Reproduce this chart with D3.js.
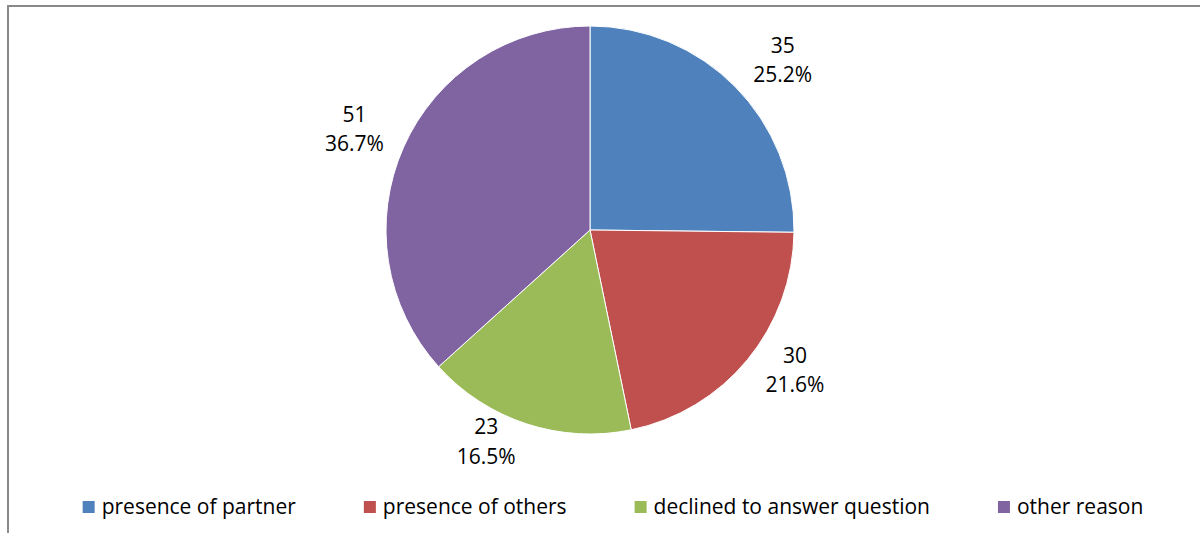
<!DOCTYPE html>
<html>
<head>
<meta charset="utf-8">
<script src="https://cdn.jsdelivr.net/npm/d3@7"></script>
<style>
  html, body { margin: 0; padding: 0; background: #fff; }
  svg { display: block; }
  text { font-family: "Open Sans", sans-serif; fill: #000; }
</style>
</head>
<body>
<svg id="chart" width="1200" height="533"></svg>
<script>
// Reasons, counts and slice colours
const categories = ["presence of partner", "presence of others", "declined to answer question", "other reason"];
const counts = [35, 30, 23, 51];
const colors = ["#4F81BD", "#C0504D", "#9BBB59", "#8064A2"];

// Label placement: distance from centre plus a small best-fit shift per slice
const labelRadius = 250;
const labelShift = [[15, 7], [12, -18], [-26, -25], [-7, 2]];

const width = 1200, height = 533;
const cx = 590, cy = 230, radius = 204;
const fontSize = 21;

const svg = d3.select("#chart");

// outer frame of the chart area
svg.append("rect")
  .attr("x", 8).attr("y", 6)
  .attr("width", width + 20).attr("height", height + 20)
  .attr("fill", "none")
  .attr("stroke", "#898989")
  .attr("stroke-width", 2);

const total = d3.sum(counts);
const data = categories.map((c, i) => ({ name: c, value: counts[i], color: colors[i], idx: i }));

const pie = d3.pie().value(d => d.value).sort(null).startAngle(0).endAngle(2 * Math.PI);
const arcs = pie(data);

const arc = d3.arc().innerRadius(0).outerRadius(radius);
const labelArc = d3.arc().innerRadius(labelRadius).outerRadius(labelRadius);

const g = svg.append("g").attr("transform", `translate(${cx},${cy})`);

g.selectAll("path.slice")
  .data(arcs)
  .join("path")
  .attr("class", "slice")
  .attr("d", arc)
  .attr("fill", d => d.data.color)
  .attr("stroke", "#fff")
  .attr("stroke-width", 1);

const pct = v => (v / total * 100).toFixed(1) + "%";

const labels = g.selectAll("text.lbl")
  .data(arcs)
  .join("text")
  .attr("class", "lbl")
  .attr("text-anchor", "middle")
  .attr("font-size", fontSize)
  .attr("transform", d => {
    const [x, y] = labelArc.centroid(d);
    const s = labelShift[d.data.idx];
    return `translate(${x + s[0]},${y + s[1]})`;
  });

labels.append("tspan").attr("x", 0).attr("dy", "-0.4em").text(d => d.data.value);
labels.append("tspan").attr("x", 0).attr("dy", "1.4em").text(d => pct(d.data.value));

// legend along the bottom, centred
const sw = 12, swGap = 7, itemGap = 68, legendY = 507, legendCenter = 613;
const legend = svg.append("g");
const items = legend.selectAll("g.item")
  .data(data)
  .join("g")
  .attr("class", "item");

items.append("rect")
  .attr("width", sw).attr("height", sw)
  .attr("y", legendY - sw / 2)
  .attr("fill", d => d.color);

items.append("text")
  .attr("x", sw + swGap)
  .attr("y", legendY)
  .attr("dy", "0.35em")
  .attr("font-size", fontSize)
  .text(d => d.name);

const widths = [];
items.each(function () {
  widths.push(sw + swGap + d3.select(this).select("text").node().getComputedTextLength());
});
const legendWidth = d3.sum(widths) + itemGap * (widths.length - 1);
let x0 = legendCenter - legendWidth / 2;
items.attr("transform", (d, i) => {
  const x = x0;
  x0 += widths[i] + itemGap;
  return `translate(${x},0)`;
});
</script>
</body>
</html>
